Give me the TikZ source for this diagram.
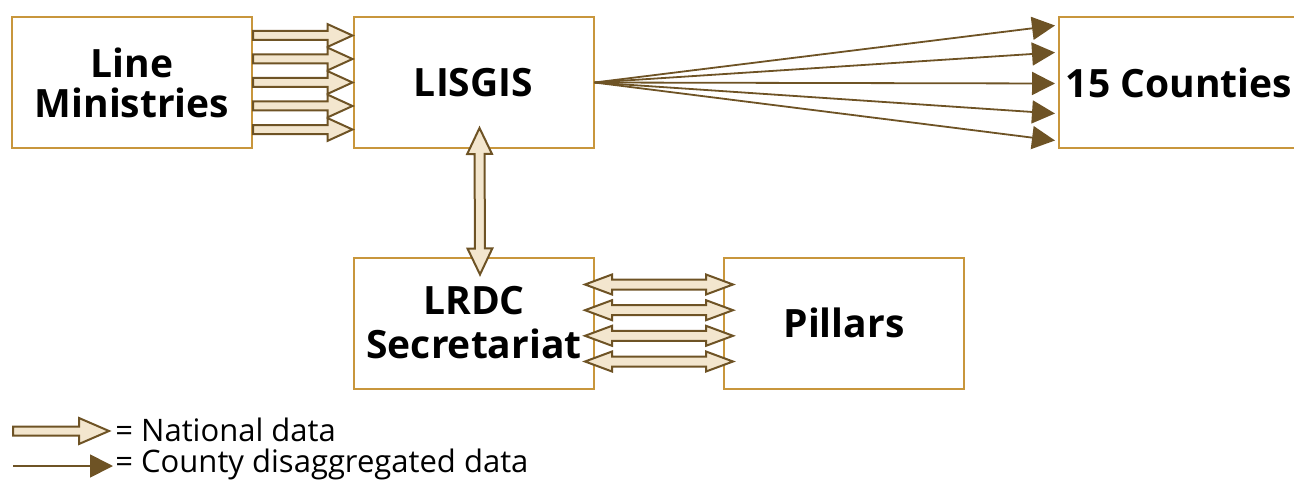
\documentclass[tikz,border=0pt]{standalone}
\usepackage{fontspec}
\setmainfont{Open Sans}
\usetikzlibrary{calc,arrows.meta}
\definecolor{boxgold}{HTML}{C8963C}
\definecolor{arrowbrown}{HTML}{6E5325}
\definecolor{arrowfill}{HTML}{F3E6CE}
\tikzset{
  arrow shaft/.store in=\arrowshaft, arrow head/.store in=\arrowhead, arrow tip len/.store in=\arrowtiplen,
  arrow shaft=2.25pt, arrow head=5.7pt, arrow tip len=12.5pt,
  databox/.style={draw=boxgold, line width=1pt, minimum width=120pt, minimum height=65.5pt, inner sep=0pt, align=center, font=\bfseries\fontsize{19.5}{20}\selectfont},
  natarrow/.style={draw=arrowbrown, fill=arrowfill, line width=1pt, line join=miter,
    to path={let \p1=(\tikztostart), \p2=(\tikztotarget), \n1={atan2(\y2-\y1,\x2-\x1)}, \n2={veclen(\x2-\x1,\y2-\y1)} in
      [shift={(\p1)}, rotate=\n1] (0pt,\arrowshaft) -- ({\n2*1pt-\arrowtiplen},\arrowshaft) -- ({\n2*1pt-\arrowtiplen},\arrowhead)
      -- ({\n2*1pt},0pt) -- ({\n2*1pt-\arrowtiplen},-\arrowhead) -- ({\n2*1pt-\arrowtiplen},-\arrowshaft) -- (0pt,-\arrowshaft) -- cycle}},
  natboth/.style={draw=arrowbrown, fill=arrowfill, line width=1pt, line join=miter,
    to path={let \p1=(\tikztostart), \p2=(\tikztotarget), \n1={atan2(\y2-\y1,\x2-\x1)}, \n2={veclen(\x2-\x1,\y2-\y1)} in
      [shift={(\p1)}, rotate=\n1] (0pt,0pt) -- (\arrowtiplen,\arrowhead) -- (\arrowtiplen,\arrowshaft) -- ({\n2*1pt-\arrowtiplen},\arrowshaft)
      -- ({\n2*1pt-\arrowtiplen},\arrowhead) -- ({\n2*1pt},0pt) -- ({\n2*1pt-\arrowtiplen},-\arrowhead) -- ({\n2*1pt-\arrowtiplen},-\arrowshaft)
      -- (\arrowtiplen,-\arrowshaft) -- (\arrowtiplen,-\arrowhead) -- cycle}},
  county/.style={draw=arrowbrown, line width=0.9pt, -{Triangle[length=11.5pt, width=11.5pt]}},
  legendtext/.style={anchor=west, inner sep=0pt, font=\fontsize{15.5}{16}\selectfont},
}
\begin{document}
\begin{tikzpicture}[x=0.5pt, y=-0.5pt]
\useasboundingbox (0,0) rectangle (1294,481);
\node[databox] (lm) at (132,82.5) {Line\\Ministries};
\node[databox] (lis) at (473.5,82.5) {LISGIS};
\node[databox] (cty) at (1179,82.5) {15 Counties};
\node[databox, font=\bfseries\fontsize{19.5}{22}\selectfont] (lrdc) at (474,323) {LRDC\\Secretariat};
\node[databox] (pil) at (844,323) {Pillars};
\foreach \y in {-47,-23.5,0,23.5,47} \draw[natarrow] ($(lm.east)+(0,\y)$) to ($(lis.west)+(0,\y)$);
\foreach \y in {-57,-30,1,31,58} \draw[county] (lis.east) -- ($(cty.west)+(-3,\y)$);
\draw[natboth, arrow shaft=2.5pt, arrow head=6.2pt, arrow tip len=13pt] ($(lrdc.north)+(6,18)$) to ($(lis.south)+(6,-21)$);
\foreach \y in {-38.5,-12.8,12.8,38.5} \draw[natboth, arrow shaft=2.5pt, arrow head=5pt, arrow tip len=13.5pt] ($(lrdc.east)+(-10,\y)$) to ($(pil.west)+(10,\y)$);
\coordinate (natA) at (13,431);
\coordinate (natB) at (109,431);
\coordinate (ctyA) at (13,466);
\coordinate (ctyB) at (113,466);
\draw[natarrow, arrow head=6.5pt, arrow tip len=15pt] (natA) to (natB);
\draw[county] (ctyA) -- (ctyB);
\node[legendtext] (natlabel) at (115,430) {= National data};
\node[legendtext] (ctylabel) at (115,464) {= County disaggregated data};
\end{tikzpicture}
\end{document}
